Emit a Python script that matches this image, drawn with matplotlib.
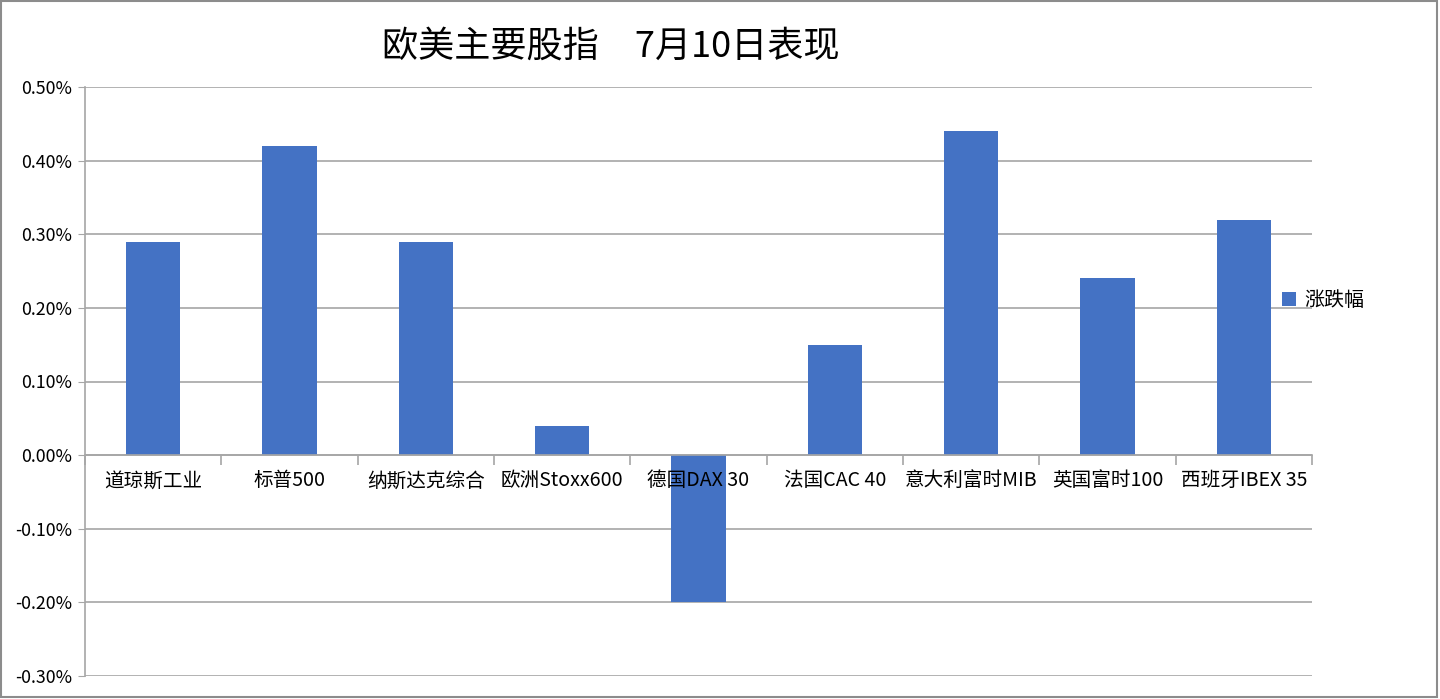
import numpy as np
import matplotlib
matplotlib.use("Agg")
import matplotlib.pyplot as plt
from matplotlib.ticker import FuncFormatter, FixedLocator
from matplotlib.patches import Rectangle

plt.rcParams["font.family"] = ["Noto Sans CJK SC", "DejaVu Sans"]

categories = ["道琼斯工业", "标普500", "纳斯达克综合", "欧洲Stoxx600", "德国DAX 30",
              "法国CAC 40", "意大利富时MIB", "英国富时100", "西班牙IBEX 35"]
changes = [0.29, 0.42, 0.29, 0.04, -0.20, 0.15, 0.44, 0.24, 0.32]  # percent
y_ticks = [-0.3, -0.2, -0.1, 0.0, 0.1, 0.2, 0.3, 0.4, 0.5]

BLUE = "#4472C4"
GRID = "#A6A6A6"

fig = plt.figure(figsize=(14.4, 6.99), dpi=100)
ax = fig.add_axes([85 / 1440, 1 - 676 / 699, (1312 - 85) / 1440, (676 - 87) / 699])

x = np.arange(len(categories))
ax.bar(x, changes, width=0.4, color=BLUE, zorder=2, label="涨跌幅")

ax.set_xlim(-0.5, len(categories) - 0.5)
ax.set_ylim(-0.3, 0.5)
ax.set_yticks(y_ticks)
ax.yaxis.set_major_formatter(FuncFormatter(lambda v, _: f"{v:.2f}%"))
ax.tick_params(axis="y", length=5, color=GRID, labelsize=12.8, pad=4.5)

ax.set_axisbelow(True)
ax.yaxis.grid(True, color=GRID, linewidth=1.2)
ax.xaxis.set_zorder(3)

# category labels at the zero line, tick marks between categories
ax.spines["bottom"].set_position(("data", 0))
ax.spines["bottom"].set_color(GRID)
ax.spines["bottom"].set_linewidth(1.2)
ax.set_xticks(x)
ax.set_xticklabels(categories, fontsize=14.1)
ax.tick_params(axis="x", which="major", length=0, pad=11)
ax.xaxis.set_minor_locator(FixedLocator(np.arange(-0.5, len(categories), 1.0)))
ax.tick_params(axis="x", which="minor", length=7, color=GRID, width=1.2)

ax.spines["left"].set_color(GRID)
ax.spines["left"].set_linewidth(1.2)
ax.spines["top"].set_visible(False)
ax.spines["right"].set_visible(False)

ax.legend(loc="center left", bbox_to_anchor=(0.961, 0.637), frameon=False,
          fontsize=14.4, handlelength=0.7, handleheight=0.7, handletextpad=0.4)

fig.text(611 / 1440, 1 - 47 / 699, "欧美主要股指　7月10日表现", fontsize=26,
         ha="center", va="center")

# outer chart border
fig.patches.append(Rectangle((0.001, 0.003), 0.997, 0.995, transform=fig.transFigure,
                             fill=False, edgecolor="#8C8C8C", linewidth=1.5))

fig.savefig("out.png", dpi=100, facecolor="white")
plt.close(fig)
